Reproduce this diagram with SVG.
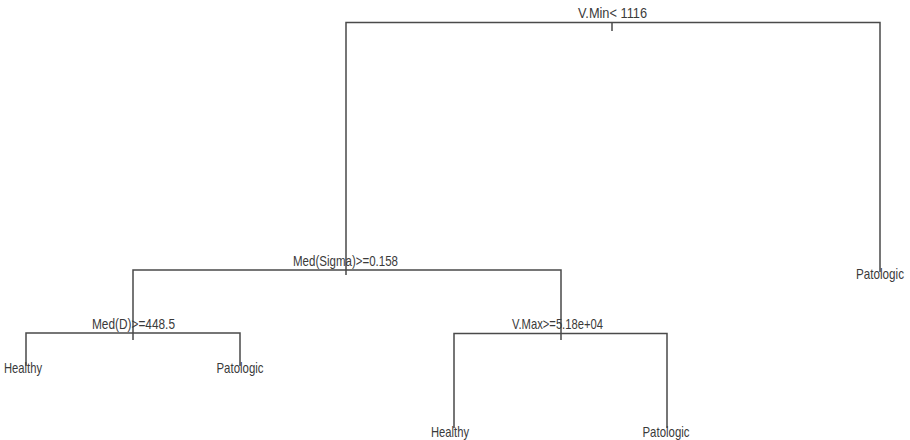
<svg xmlns="http://www.w3.org/2000/svg" width="910" height="440" viewBox="0 0 910 440">
<style>
.e{stroke:#4a4a4a;stroke-width:1.5;fill:none}
text{font-family:"Liberation Sans",Arial,sans-serif;font-size:15px;fill:#3a3a3a}
.m{text-anchor:middle}
</style>
<rect width="910" height="440" fill="#ffffff"/>
<g id="connectors">
<path class="e" d="M346,275 V22.5 H880 V272"/>
<path class="e" d="M612,22.5 V31"/>
<path class="e" d="M133,340 V270 H561 V340"/>
<path class="e" d="M26,366 V333 H240 V366"/>
<path class="e" d="M454,428 V333.5 H667 V428"/>
</g>
<g id="n-root"><text x="612.5" y="18" class="m" textLength="69" lengthAdjust="spacingAndGlyphs">V.Min&lt; 1116</text></g>
<g id="n-sigma"><text x="345.5" y="266" class="m" textLength="105" lengthAdjust="spacingAndGlyphs">Med(Sigma)&gt;=0.158</text></g>
<g id="n-medd"><text x="133.5" y="329" class="m" textLength="83" lengthAdjust="spacingAndGlyphs">Med(D)&gt;=448.5</text></g>
<g id="n-vmax"><text x="557.5" y="329" class="m" textLength="91" lengthAdjust="spacingAndGlyphs">V.Max&gt;=5.18e+04</text></g>
<g id="n-healthy1"><text x="23" y="373" class="m" textLength="38" lengthAdjust="spacingAndGlyphs">Healthy</text></g>
<g id="n-pato1"><text x="240" y="373" class="m" textLength="47" lengthAdjust="spacingAndGlyphs">Patologic</text></g>
<g id="n-healthy2"><text x="450" y="437" class="m" textLength="38" lengthAdjust="spacingAndGlyphs">Healthy</text></g>
<g id="n-pato2"><text x="666" y="437" class="m" textLength="47" lengthAdjust="spacingAndGlyphs">Patologic</text></g>
<g id="n-pato3"><text x="880" y="279" class="m" textLength="48" lengthAdjust="spacingAndGlyphs">Patologic</text></g>
</svg>
